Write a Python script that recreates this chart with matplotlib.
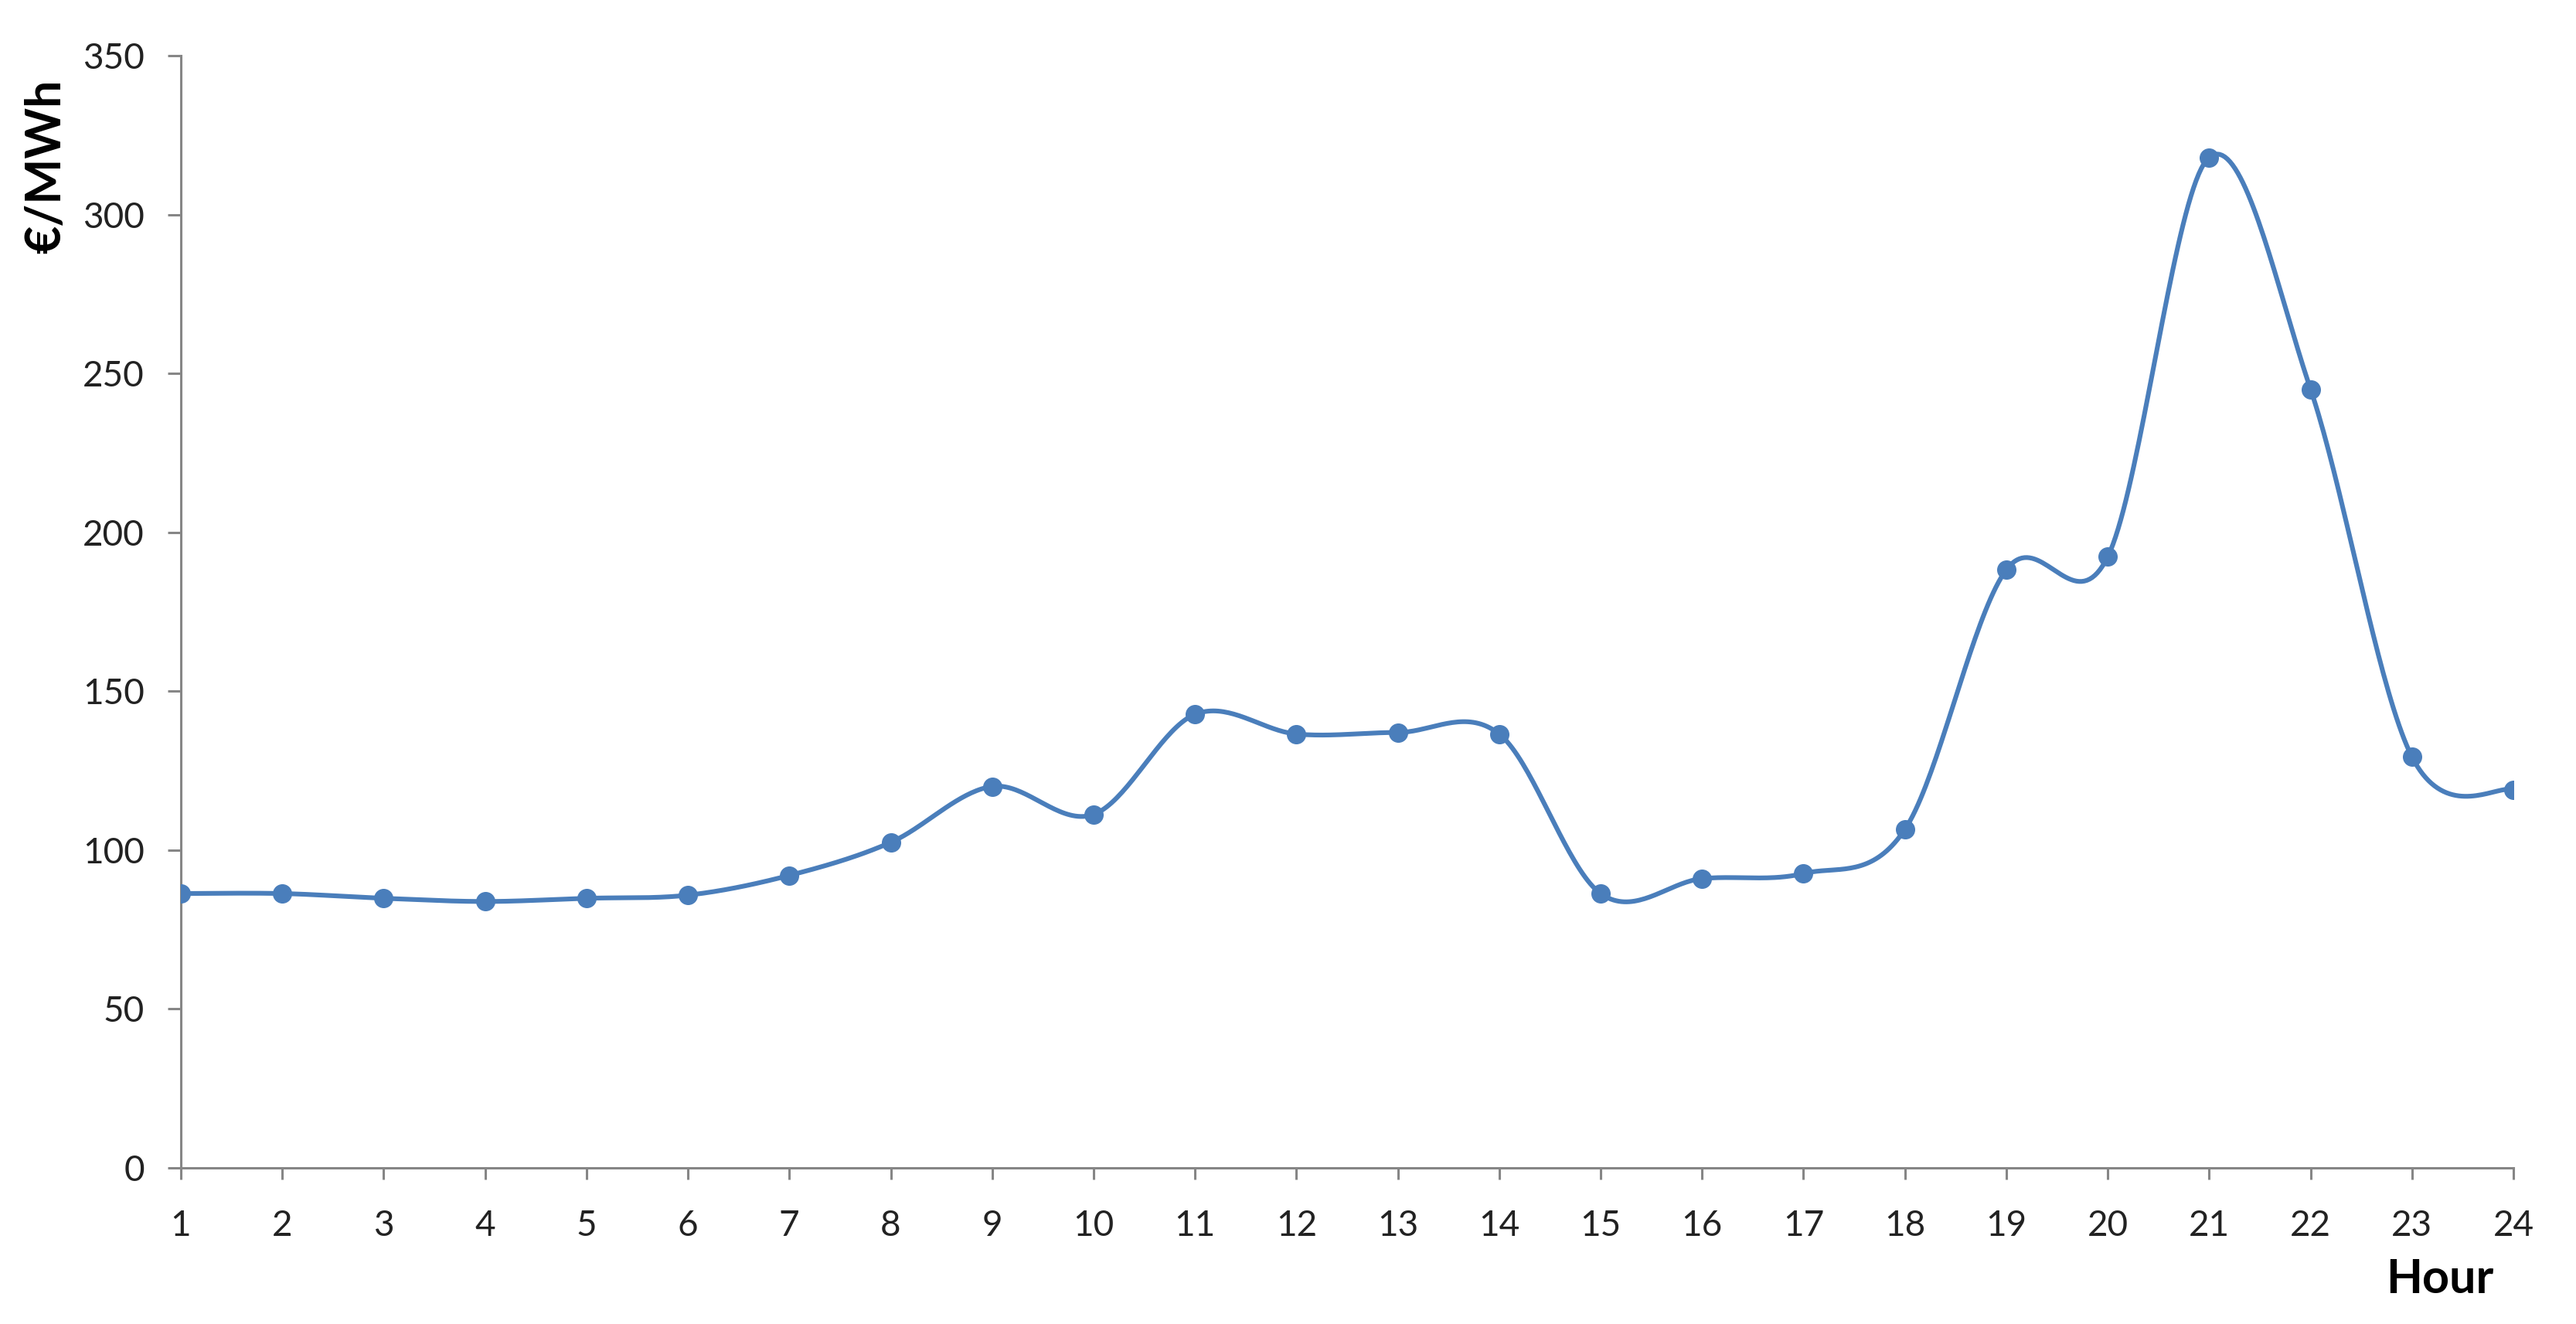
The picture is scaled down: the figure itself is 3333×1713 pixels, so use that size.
import numpy as np
import matplotlib.pyplot as plt

plt.rcParams["font.family"] = ["Lato", "DejaVu Sans"]

# hourly price data
hours = list(range(1, 25))
price = [86.3, 86.3, 84.8, 83.8, 84.8, 85.8, 92.0, 102.4, 120.0, 111.2, 142.7, 136.5,
         137.0, 136.5, 86.3, 91.0, 92.6, 106.5, 188.2, 192.3, 318.0, 245.0, 129.3, 119.0]
y_ticks = [0, 50, 100, 150, 200, 250, 300, 350]

line_color = "#4a7ebb"
spine_color = "#868686"


def smooth_curve(x, y, steps=40):
    # Catmull-Rom style smoothing like the spreadsheet "smoothed line"
    x = np.asarray(x, float)
    y = np.asarray(y, float)
    px = np.concatenate([[x[0]], x, [x[-1]]])
    py = np.concatenate([[y[0]], y, [y[-1]]])
    xs, ys = [], []
    t = np.linspace(0, 1, steps)
    for i in range(1, len(px) - 2):
        p0 = np.array([px[i], py[i]])
        p3 = np.array([px[i + 1], py[i + 1]])
        c1 = p0 + (p3 - np.array([px[i - 1], py[i - 1]])) / 6
        c2 = p3 - (np.array([px[i + 2], py[i + 2]]) - p0) / 6
        b = ((1 - t) ** 3)[:, None] * p0 + (3 * (1 - t) ** 2 * t)[:, None] * c1 \
            + (3 * (1 - t) * t ** 2)[:, None] * c2 + (t ** 3)[:, None] * p3
        xs.extend(b[:, 0])
        ys.extend(b[:, 1])
    return xs, ys


fig = plt.figure(figsize=(33.33, 17.13), dpi=100)
ax = fig.add_axes([0.0702, 0.118, 0.9055, 0.840])

sx, sy = smooth_curve(hours, price)
ax.plot(sx, sy, color=line_color, linewidth=4.4, solid_capstyle="round", zorder=3)
ax.plot(hours, price, "o", color=line_color, markersize=17, zorder=4)

ax.set_xlim(1, 24)
ax.set_ylim(0, 350)
ax.set_xticks(hours)
ax.set_yticks(y_ticks)

for side in ["top", "right"]:
    ax.spines[side].set_visible(False)
for side in ["left", "bottom"]:
    ax.spines[side].set_color(spine_color)
    ax.spines[side].set_linewidth(2.2)

ax.tick_params(axis="both", colors=spine_color, width=2.2, labelcolor="#222222",
               labelsize=33)
ax.tick_params(axis="x", length=11, pad=28)
ax.tick_params(axis="y", length=12, pad=22)

fig.text(0.018, 0.94, "€/MWh", rotation=90, ha="center", va="top",
         fontsize=45, fontweight="bold")
fig.text(0.968, 0.034, "Hour", ha="right", va="center",
         fontsize=44, fontweight="bold")

fig.savefig("out.png", dpi=100, facecolor="white")
